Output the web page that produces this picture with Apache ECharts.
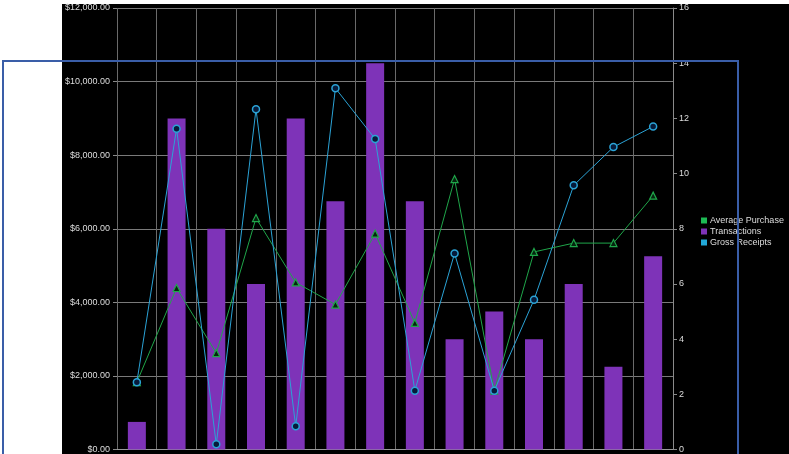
<!DOCTYPE html>
<html>
<head>
<meta charset="utf-8">
<script src="https://cdn.jsdelivr.net/npm/echarts@6/dist/echarts.min.js"></script>
<style>
html,body{margin:0;padding:0;background:#fff;}
#bg{position:absolute;left:62px;top:4px;width:727px;height:450px;background:#000;}
#c{position:absolute;left:0;top:0;width:789px;height:454px;}
</style>
</head>
<body>
<div id="bg"></div>
<div id="c"></div>
<script>
var categories = ['1','2','3','4','5','6','7','8','9','10','11','12','13','14'];
var transactions = [1, 12, 8, 6, 12, 9, 14, 9, 4, 5, 4, 6, 3, 7];
var grossReceipts = [1830, 8720, 140, 9250, 630, 9820, 8440, 1600, 5330, 1600, 4070, 7180, 8220, 8780];
var averagePurchase = [1830, 4390, 2620, 6290, 4540, 3940, 5870, 3440, 7350, 1600, 5370, 5610, 5610, 6900];
var leftTicks = {min: 0, max: 12000, interval: 2000};
var rightTicks = {min: 0, max: 16, interval: 2};

var GREEN = '#1fa64a', PURPLE = '#7e33b8', BLUE = '#2ba3d6';
var chart = echarts.init(document.getElementById('c'), null, {renderer: 'canvas'});
var fontFam = 'Liberation Sans, Arial, sans-serif';
chart.setOption({
  backgroundColor: 'transparent',
  animation: false,
  textStyle: {fontFamily: fontFam},
  grid: {left: 117, right: 116, top: 8, bottom: 4, containLabel: false},
  legend: {
    orient: 'vertical', left: 696, top: 211,
    itemWidth: 6, itemHeight: 6, itemGap: 2,
    icon: 'rect',
    textStyle: {color: '#dddddd', fontSize: 9, fontFamily: fontFam, padding: [0,0,0,-2]},
    data: [
      {name: 'Average Purchase', itemStyle: {color: '#1db954', borderWidth: 0}},
      {name: 'Transactions', itemStyle: {color: PURPLE, borderWidth: 0}},
      {name: 'Gross Receipts', itemStyle: {color: '#22a8d8', borderWidth: 0}}
    ]
  },
  xAxis: {
    type: 'category', data: categories, boundaryGap: true,
    axisLabel: {show: false},
    axisTick: {show: false},
    axisLine: {show: true, lineStyle: {color: '#9a9a9a', width: 1}},
    splitLine: {show: true, lineStyle: {color: '#6a6a6a', width: 1}}
  },
  yAxis: [{
    type: 'value', min: leftTicks.min, max: leftTicks.max, interval: leftTicks.interval,
    position: 'left',
    axisLine: {show: false},
    axisTick: {show: true, length: 4, lineStyle: {color: '#8a8a8a'}},
    axisLabel: {color: '#dddddd', fontSize: 9, margin: 7, fontFamily: fontFam,
      formatter: function (v) { return '$' + v.toLocaleString('en-US', {minimumFractionDigits: 2, maximumFractionDigits: 2}); }},
    splitLine: {show: true, lineStyle: {color: '#7a7a7a', width: 1}}
  }, {
    type: 'value', min: rightTicks.min, max: rightTicks.max, interval: rightTicks.interval,
    position: 'right',
    axisLine: {show: true, lineStyle: {color: '#8a8a8a', width: 1}},
    axisTick: {show: true, length: 4, lineStyle: {color: '#8a8a8a'}},
    axisLabel: {color: '#dddddd', fontSize: 9, margin: 6, fontFamily: fontFam},
    splitLine: {show: false}
  }],
  series: [{
    name: 'Average Purchase', type: 'line', yAxisIndex: 0, data: averagePurchase,
    symbol: 'triangle', symbolSize: 7, z: 4,
    lineStyle: {color: GREEN, width: 1},
    itemStyle: {color: '#06240f', borderColor: GREEN, borderWidth: 1.2}
  }, {
    name: 'Transactions', type: 'bar', yAxisIndex: 1, data: transactions,
    barWidth: 18, z: 2,
    itemStyle: {color: PURPLE}
  }, {
    name: 'Gross Receipts', type: 'line', yAxisIndex: 0, data: grossReceipts,
    symbol: 'circle', symbolSize: 7, z: 5,
    lineStyle: {color: BLUE, width: 1},
    itemStyle: {color: '#061a3a', borderColor: BLUE, borderWidth: 1.5}
  }],
  graphic: [{
    type: 'rect', z: 100, silent: true,
    shape: {x: 3, y: 61, width: 735, height: 400},
    style: {fill: 'none', stroke: '#3a5ea8', lineWidth: 2}
  }]
});
</script>
</body>
</html>
